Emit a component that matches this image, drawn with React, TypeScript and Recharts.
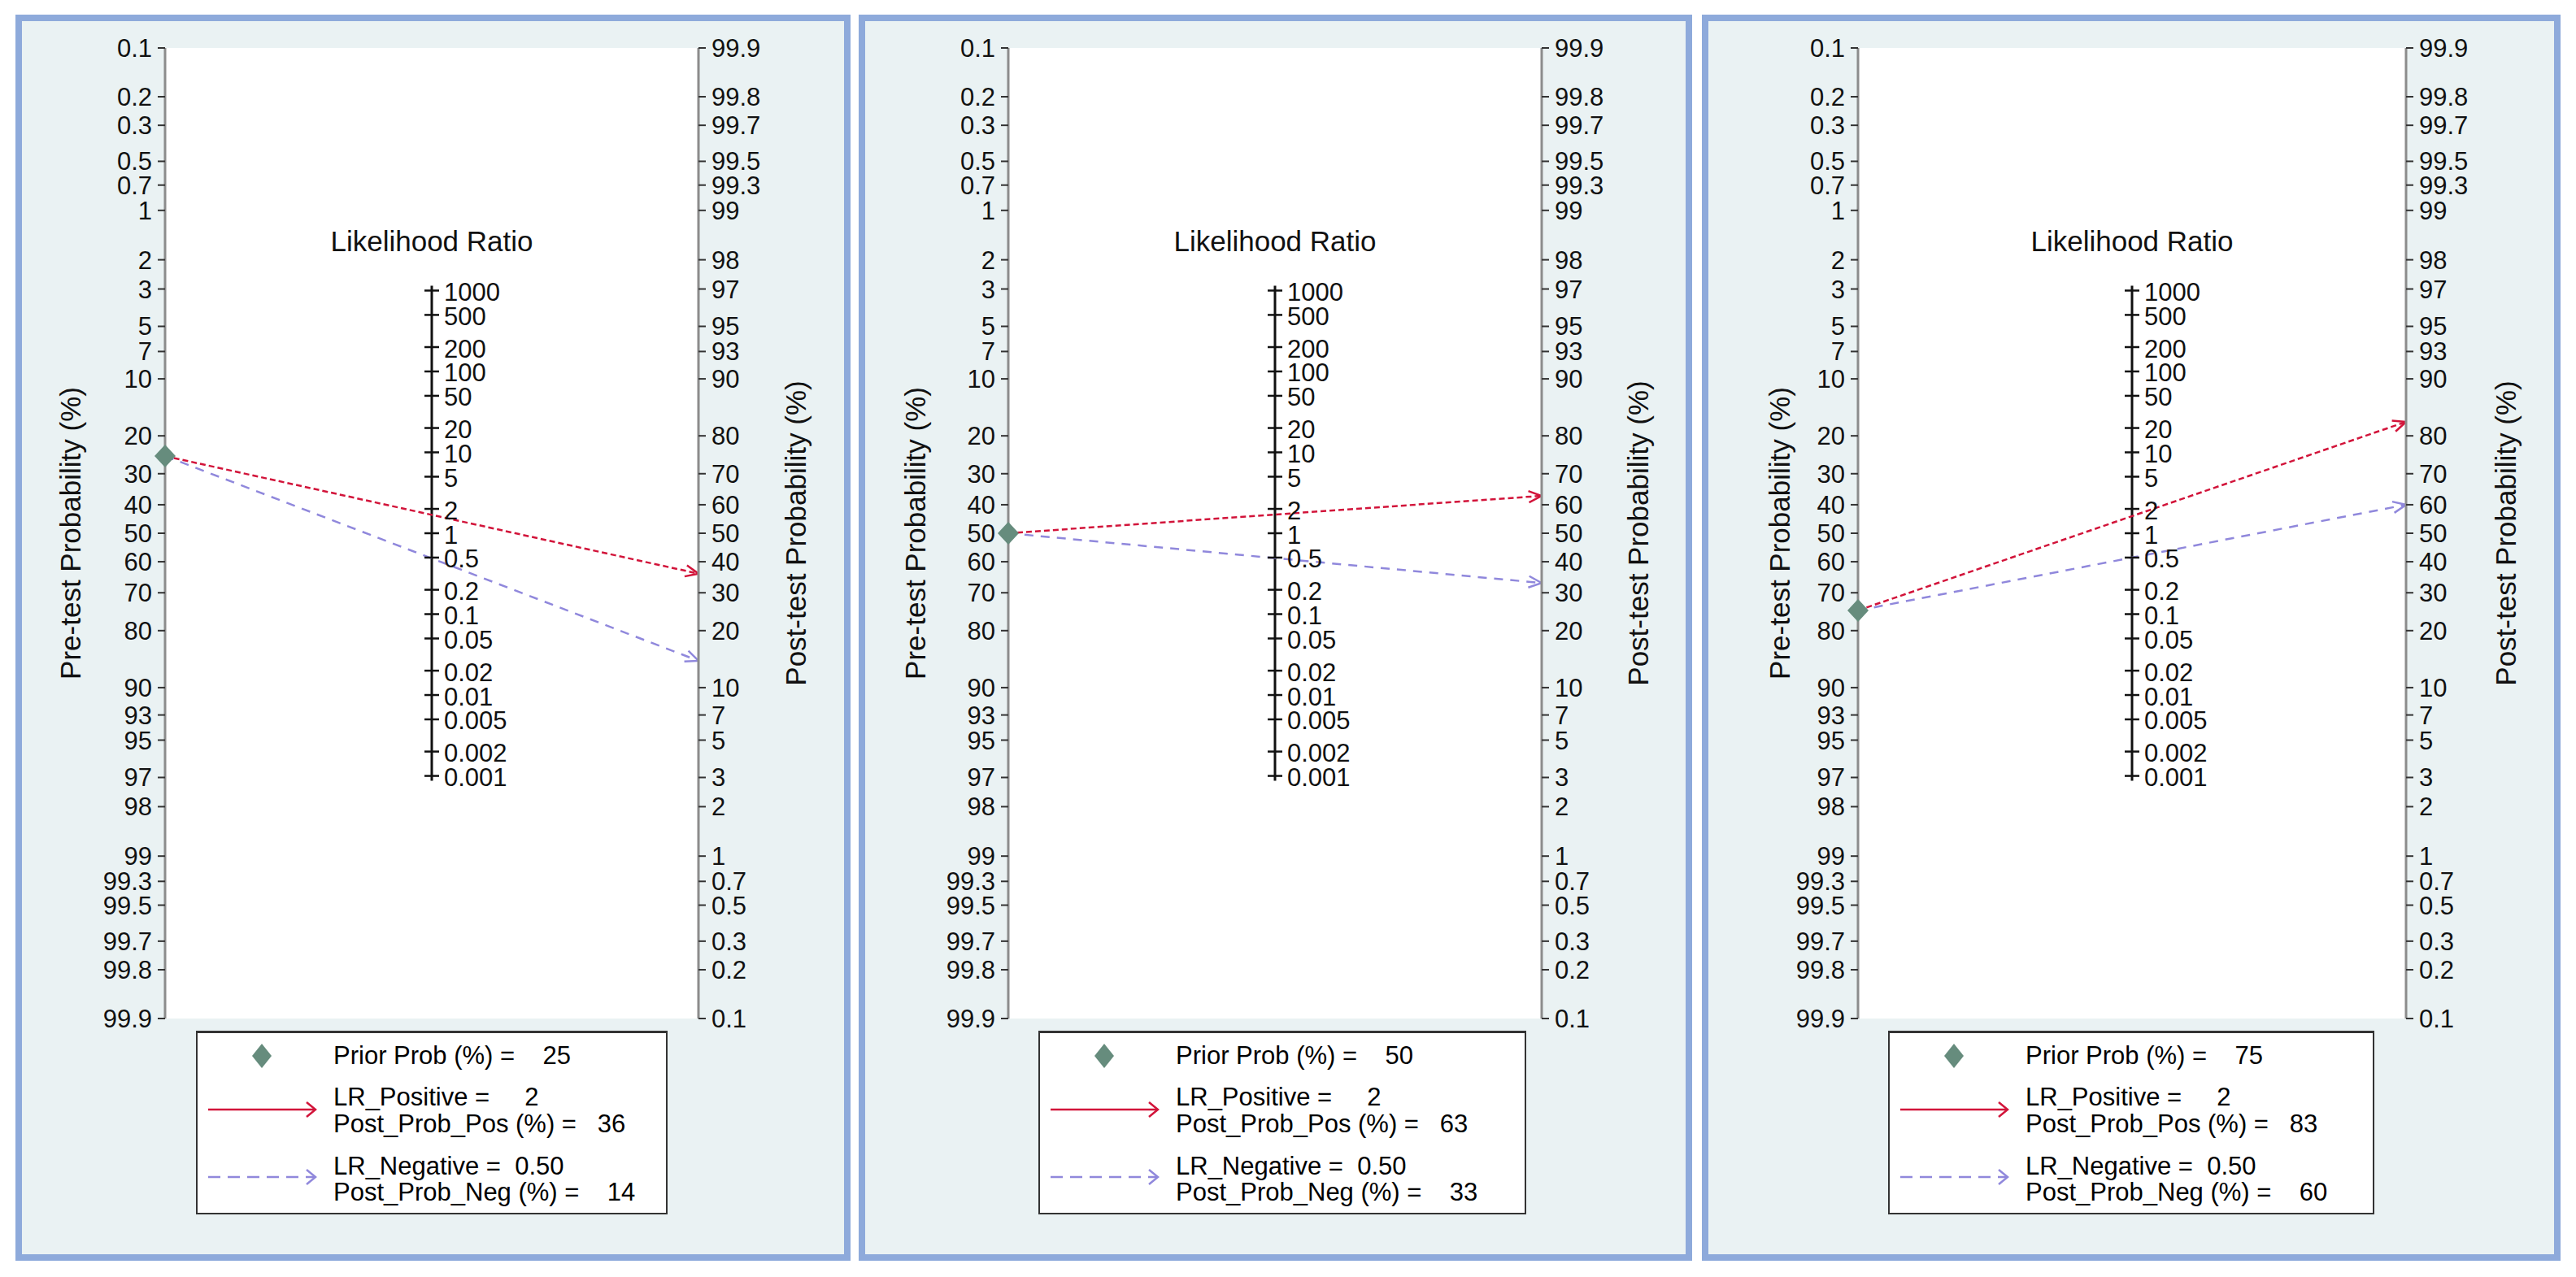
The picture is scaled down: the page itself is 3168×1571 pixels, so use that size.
import React from 'react';
import {
  ComposedChart, CartesianGrid, XAxis, YAxis, Line, Scatter, ReferenceLine, ReferenceDot,
} from 'recharts';

// probability ticks (%) used on both outer axes
const probTicks = [0.1, 0.2, 0.3, 0.5, 0.7, 1, 2, 3, 5, 7, 10, 20, 30, 40, 50, 60, 70, 80, 90, 93, 95, 97, 98, 99, 99.3, 99.5, 99.7, 99.8, 99.9];
// likelihood ratio ticks on the middle axis
const lrTicks = [1000, 500, 200, 100, 50, 20, 10, 5, 2, 1, 0.5, 0.2, 0.1, 0.05, 0.02, 0.01, 0.005, 0.002, 0.001];

const priorProb = [25, 50, 75];
const postProbPos = [36, 63, 83];
const postProbNeg = [14, 33, 60];
const lrPosText = ['2', '2', '2'];
const lrNegText = ['0.50', '0.50', '0.50'];

const FONT = 'Arial, "Liberation Sans", Helvetica, sans-serif';
const RED = '#d2143a';
const LAV = '#9088dc';
const DIAMOND = '#668c7d';
const PANEL_BG = '#eaf2f3';
const PANEL_BORDER = '#8eaadb';

const logit = (p: number) => Math.log(p / (100 - p));
const EDGE = logit(99.9);
const fmtProb = (p: number) => String(Number(p.toFixed(1)));

// panel geometry (page px)
const PANEL_TOP = 18;
const PANEL_H = 1533;
const BORDER = 8;
const AXIS_W = 150;
const PLOT_TOP = 59;
const PLOT_BOTTOM = 1253;
const panels = [
  { left: 19, width: 1027, plotLeft: 184, plotWidth: 656, preDx: -117, postDx: 119, legendLeft: 222, legendWidth: 580 },
  { left: 1056, width: 1025, plotLeft: 184, plotWidth: 656, preDx: -115, postDx: 118, legendLeft: 221, legendWidth: 600 },
  { left: 2093, width: 1056, plotLeft: 192, plotWidth: 674, preDx: -97, postDx: 122, legendLeft: 229, legendWidth: 598 },
];

const sideTitle = (text: string, dx: number, side: 'left' | 'right') => (props: any) => {
  const vb = props.viewBox ?? props;
  const axisX = side === 'left' ? vb.x + vb.width : vb.x;
  const x = axisX + dx;
  const y = vb.y + vb.height / 2;
  return (
    <text x={x} y={y} transform={`rotate(-90 ${x} ${y})`} textAnchor="middle" dominantBaseline="central"
      fontSize={35} fill="#111" fontFamily={FONT}>{text}</text>
  );
};

const lrTitle = (props: any) => {
  const vb = props.viewBox ?? props;
  return (
    <text x={vb.x} y={vb.y - 61} textAnchor="middle" dominantBaseline="central" fontSize={35} fill="#111" fontFamily={FONT}>
      Likelihood Ratio
    </text>
  );
};

const LrTick = (props: any) => {
  const { cx, cy, payload } = props;
  return (
    <g>
      <line x1={cx - 9} x2={cx + 9} y1={cy} y2={cy} stroke="#111" strokeWidth={2.5} />
      <text x={cx + 15} y={cy + 2} dominantBaseline="central" fontSize={31} fill="#111" fontFamily={FONT}>{payload.label}</text>
    </g>
  );
};

const Diamond = (props: any) => {
  const { cx, cy } = props;
  return <polygon points={`${cx},${cy - 14} ${cx + 13},${cy} ${cx},${cy + 14} ${cx - 13},${cy}`} fill={DIAMOND} />;
};

function LegendBox({ k, left, width }: { k: number; left: number; width: number }) {
  const rows = [
    { y: 31, text: `Prior Prob (%) =    ${priorProb[k]}` },
    { y: 82, text: `LR_Positive =     ${lrPosText[k]}` },
    { y: 115, text: `Post_Prob_Pos (%) =   ${postProbPos[k]}` },
    { y: 167, text: `LR_Negative =  ${lrNegText[k]}` },
    { y: 199, text: `Post_Prob_Neg (%) =    ${postProbNeg[k]}` },
  ];
  return (
    <div style={{
      position: 'absolute', left, top: 1268 - PANEL_TOP - BORDER, width, height: 226, boxSizing: 'border-box',
      background: '#fff', border: '2px solid #333', borderTopWidth: 3, fontFamily: FONT, fontSize: 31, color: '#000',
    }}>
      <svg width={width} height={226} style={{ position: 'absolute', left: -2, top: -3 }}>
        <polygon points="81,16 93,31 81,46 69,31" fill={DIAMOND} />
        <line x1={15} x2={146} y1={97} y2={97} stroke={RED} strokeWidth={2.5} />
        <path d="M136,88 L147,97 L136,106" fill="none" stroke={RED} strokeWidth={2.5} />
        <line x1={15} x2={146} y1={180} y2={180} stroke={LAV} strokeWidth={2.5} strokeDasharray="15 9" />
        <path d="M136,171 L147,180 L136,189" fill="none" stroke={LAV} strokeWidth={2.5} />
      </svg>
      {rows.map((r) => (
        <div key={r.y} style={{ position: 'absolute', left: 167, top: r.y - 3 - 18, lineHeight: '36px', whiteSpace: 'pre' }}>
          {r.text}
        </div>
      ))}
    </div>
  );
}

function Panel({ k }: { k: number }) {
  const p = panels[k];
  const innerW = p.width - 2 * BORDER;
  const innerH = PANEL_H - 2 * BORDER;
  const margin = {
    top: PLOT_TOP - PANEL_TOP - BORDER,
    bottom: PANEL_TOP + PANEL_H - BORDER - PLOT_BOTTOM,
    left: p.plotLeft - BORDER - AXIS_W,
    right: innerW - (p.plotLeft - BORDER) - p.plotWidth - AXIS_W,
  };
  const pre = -logit(priorProb[k]);
  const posLine = [{ x: 0, v: pre }, { x: 1, v: logit(postProbPos[k]) }];
  const negLine = [{ x: 0, v: pre }, { x: 1, v: logit(postProbNeg[k]) }];
  const lrData = lrTicks.map((lr) => ({ x: 0.5, v: Math.log(lr) / 2, label: String(lr) }));
  const axisCommon = {
    type: 'number' as const,
    dataKey: 'v',
    domain: [-EDGE, EDGE],
    interval: 0 as const,
    width: AXIS_W,
    tickSize: 9,
    tickMargin: 7,
    axisLine: { stroke: '#8c8c8c', strokeWidth: 3 },
    tickLine: { stroke: '#333', strokeWidth: 2 },
    tick: { fill: '#111', fontSize: 31, fontFamily: FONT },
  };

  return (
    <div style={{
      position: 'absolute', left: p.left, top: PANEL_TOP, width: p.width, height: PANEL_H,
      boxSizing: 'border-box', border: `${BORDER}px solid ${PANEL_BORDER}`, background: PANEL_BG,
    }}>
      <ComposedChart width={innerW} height={innerH} margin={margin} style={{ fontFamily: FONT }}>
        <defs>
          <marker id={`arrR${k}`} viewBox="0 0 20 20" refX={19} refY={10} markerWidth={20} markerHeight={20}
            markerUnits="userSpaceOnUse" orient="auto">
            <path d="M3,3 L19,10 L3,17" fill="none" stroke={RED} strokeWidth={2.5} />
          </marker>
          <marker id={`arrB${k}`} viewBox="0 0 20 20" refX={19} refY={10} markerWidth={20} markerHeight={20}
            markerUnits="userSpaceOnUse" orient="auto">
            <path d="M3,3 L19,10 L3,17" fill="none" stroke={LAV} strokeWidth={2.5} />
          </marker>
        </defs>
        <CartesianGrid fill="#ffffff" stroke="none" yAxisId="L" />
        <XAxis type="number" dataKey="x" domain={[0, 1]} hide />
        <YAxis yAxisId="L" orientation="left" {...axisCommon}
          ticks={probTicks.map((q) => -logit(q))}
          tickFormatter={(v: number) => fmtProb(100 / (1 + Math.exp(v)))}
          label={sideTitle('Pre-test Probability (%)', p.preDx, 'left')} />
        <YAxis yAxisId="R" orientation="right" {...axisCommon}
          ticks={probTicks.map((q) => logit(q))}
          tickFormatter={(v: number) => fmtProb(100 / (1 + Math.exp(-v)))}
          label={sideTitle('Post-test Probability (%)', p.postDx, 'right')} />
        <ReferenceLine yAxisId="L" segment={[{ x: 0.5, y: Math.log(1000) / 2 + 0.07 }, { x: 0.5, y: Math.log(0.001) / 2 - 0.07 }]}
          stroke="#111" strokeWidth={3} />
        <Scatter yAxisId="R" data={lrData} dataKey="v" shape={LrTick} isAnimationActive={false} />
        <ReferenceDot yAxisId="L" x={0.5} y={Math.log(1000) / 2} r={0} stroke="none" fill="none" label={lrTitle} />
        <Scatter yAxisId="L" data={[{ x: 0, v: pre }]} dataKey="v" shape={Diamond} isAnimationActive={false} />
        <Line yAxisId="L" data={posLine} dataKey="v" type="linear" stroke={RED} strokeWidth={2.5} strokeDasharray="7 4"
          dot={false} activeDot={false} isAnimationActive={false} markerEnd={`url(#arrR${k})`} />
        <Line yAxisId="R" data={negLine} dataKey="v" type="linear" stroke={LAV} strokeWidth={2.5} strokeDasharray="11 9"
          dot={false} activeDot={false} isAnimationActive={false} markerEnd={`url(#arrB${k})`} />
      </ComposedChart>
      <LegendBox k={k} left={p.legendLeft - BORDER} width={p.legendWidth} />
    </div>
  );
}

export default function App() {
  return (
    <div style={{ position: 'absolute', left: 0, top: 0, width: 3168, height: 1571, background: '#fff', fontFamily: FONT }}>
      {panels.map((_, k) => <Panel key={k} k={k} />)}
    </div>
  );
}
